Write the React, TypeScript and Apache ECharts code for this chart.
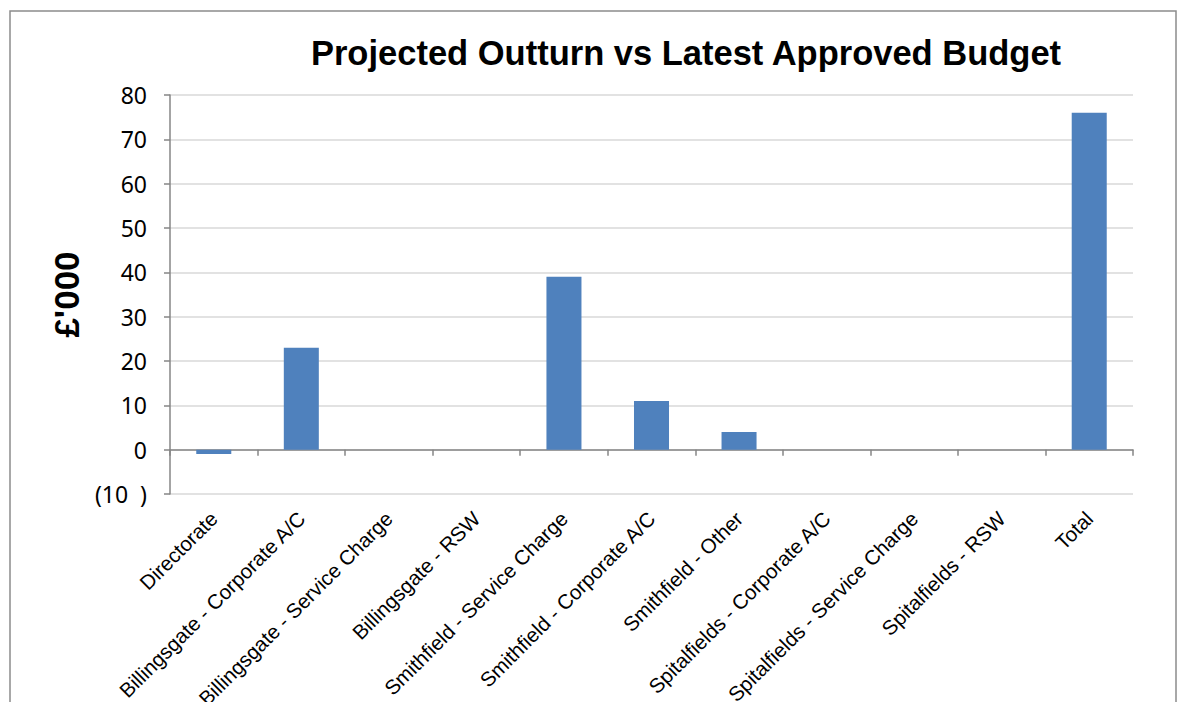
import React, { useEffect, useRef } from "react";
import * as echarts from "echarts";

const categories = [
  "Directorate",
  "Billingsgate - Corporate A/C",
  "Billingsgate - Service Charge",
  "Billingsgate - RSW",
  "Smithfield - Service Charge",
  "Smithfield - Corporate A/C",
  "Smithfield - Other",
  "Spitalfields - Corporate A/C",
  "Spitalfields - Service Charge",
  "Spitalfields - RSW",
  "Total",
];
const values = [-1, 23, 0, 0, 39, 11, 4, 0, 0, 0, 76];
const yTicks = [-10, 0, 10, 20, 30, 40, 50, 60, 70, 80];
const titleText = "Projected Outturn vs Latest Approved Budget";
const yName = "£'000";

export default function App() {
  const ref = useRef<HTMLDivElement>(null);
  useEffect(() => {
    if (!ref.current) return;
    const chart = echarts.init(ref.current, undefined, { renderer: "svg" });
    chart.setOption({
      animation: false,
      backgroundColor: "#ffffff",
      title: {
        text: titleText,
        left: 673,
        top: 22,
        textAlign: "center",
        textStyle: {
          fontFamily: "Arial",
          fontWeight: "bold",
          fontSize: 34.5,
          color: "#000000",
        },
      },
      graphic: [
        {
          type: "rect",
          shape: { x: 2, y: 3, width: 1166, height: 740 },
          style: { fill: "none", stroke: "#8c8c8c", lineWidth: 1.5 },
          silent: true,
        },
      ],
      grid: { left: 162, right: 44, top: 87, bottom: 216, outerBoundsMode: "none", containLabel: false },
      xAxis: {
        type: "category",
        data: categories,
        axisLine: { show: true, onZero: true, lineStyle: { color: "#868686", width: 1.5 } },
        axisTick: { show: true, interval: 0, length: 6, lineStyle: { color: "#868686", width: 1.5 } },
        axisLabel: {
          interval: 0,
          rotate: 45,
          fontFamily: "Arial",
          fontSize: 20.5,
          color: "#000000",
          margin: 21,
        },
      },
      yAxis: {
        type: "value",
        min: yTicks[0],
        max: yTicks[yTicks.length - 1],
        interval: 10,
        name: yName,
        nameLocation: "middle",
        nameGap: 85,
        nameRotate: 90,
        nameTextStyle: {
          fontFamily: "Arial",
          fontWeight: "bold",
          fontSize: 35,
          color: "#000000",
        },
        axisLine: { show: true, lineStyle: { color: "#868686", width: 1.5 } },
        axisTick: { show: true, length: 6, lineStyle: { color: "#868686", width: 1.5 } },
        axisLabel: {
          fontFamily: "Noto Sans",
          fontSize: 23,
          color: "#000000",
          margin: 23,
          formatter: (v: number) => (v < 0 ? `(${-v}  )` : `${v}`),
        },
        splitLine: { show: true, lineStyle: { color: "#d9d9d9", width: 1.5 } },
      },
      series: [
        {
          type: "bar",
          data: values,
          barWidth: "40%",
          itemStyle: { color: "#4f81bd" },
        },
      ],
    });
    return () => chart.dispose();
  }, []);
  return <div ref={ref} style={{ width: 1169, height: 702, marginBottom: -8 }} />;
}
